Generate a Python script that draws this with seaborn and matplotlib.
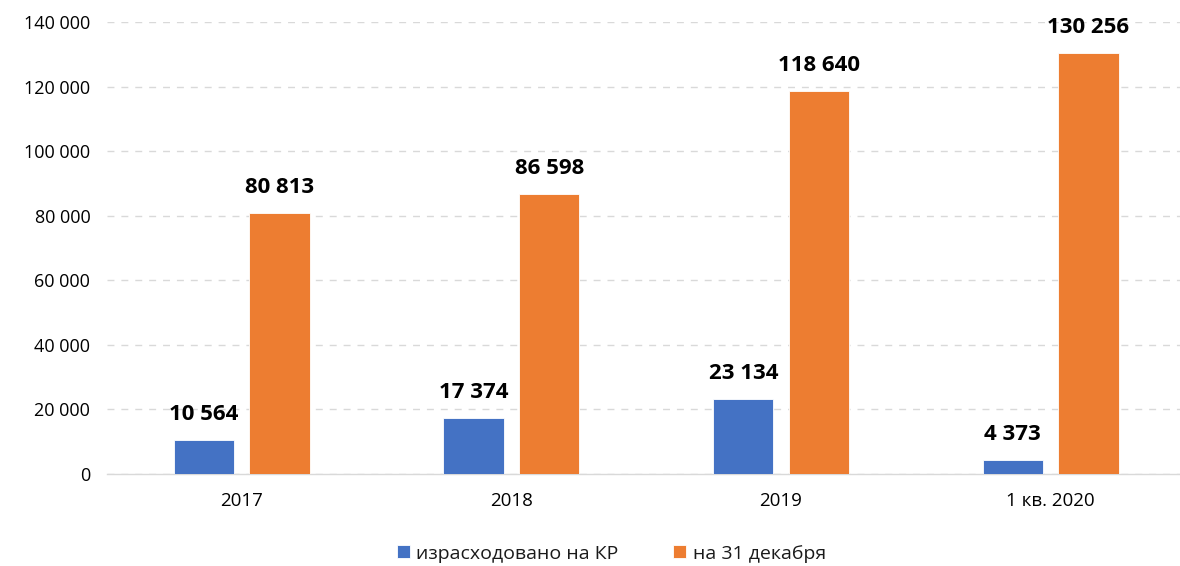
import matplotlib
matplotlib.use("Agg")
import matplotlib.pyplot as plt
import seaborn as sns
import pandas as pd
from matplotlib.ticker import FuncFormatter

categories = ["2017", "2018", "2019", "1 кв. 2020"]
series_names = ["израсходовано на КР", "на 31 декабря"]
spent = [10564, 17374, 23134, 4373]
year_end = [80813, 86598, 118640, 130256]
colors = ["#4472C4", "#ED7D31"]

df = pd.DataFrame({
    "cat": categories * 2,
    "series": [series_names[0]] * 4 + [series_names[1]] * 4,
    "value": spent + year_end,
})

sns.set_theme(style="white")
plt.rcParams["font.family"] = ["Open Sans", "DejaVu Sans"]
plt.rcParams["text.color"] = "black"

fig = plt.figure(figsize=(11.8, 5.66), dpi=100)
ax = fig.add_axes([107 / 1180, 1 - 474 / 566, 1073 / 1180, (474 - 22) / 566])

sns.barplot(data=df, x="cat", y="value", hue="series", palette=colors,
            width=0.56, gap=0.2, ax=ax, edgecolor="white", linewidth=0.6,
            saturation=1, legend=True, zorder=3)

ax.set_xlim(-0.5, 3.48)
ax.set_ylim(0, 140000)
ax.set_yticks(range(0, 140001, 20000))
ax.yaxis.set_major_formatter(FuncFormatter(lambda v, p: f"{int(v):,}".replace(",", " ")))
ax.grid(axis="y", color="#d9d9d9", linestyle=(0, (5, 5)), linewidth=1, zorder=0)
ax.set_axisbelow(True)
for s in ["top", "right", "left"]:
    ax.spines[s].set_visible(False)
ax.spines["bottom"].set_color("#d9d9d9")
ax.spines["bottom"].set_linewidth(1)
ax.tick_params(axis="both", length=0, colors="black")
ax.tick_params(axis="x", pad=13, labelsize=13.5)
ax.tick_params(axis="y", pad=12, labelsize=13)
ax.set_xlabel("")
ax.set_ylabel("")

for cont in ax.containers:
    for bar in cont:
        h = bar.get_height()
        ax.annotate(f"{int(round(h)):,}".replace(",", " "),
                    (bar.get_x() + bar.get_width() / 2, h),
                    xytext=(0, 11), textcoords="offset points",
                    ha="center", va="bottom", fontsize=16, fontweight="bold",
                    color="black")

leg = ax.legend(loc="lower center", bbox_to_anchor=(0.47, -0.235), ncol=2,
                frameon=False, fontsize=14, handlelength=0.65, handleheight=0.65,
                columnspacing=2.8, handletextpad=0.35)
for t in leg.get_texts():
    t.set_color("#1a1a1a")

fig.savefig("out.png", dpi=100)
